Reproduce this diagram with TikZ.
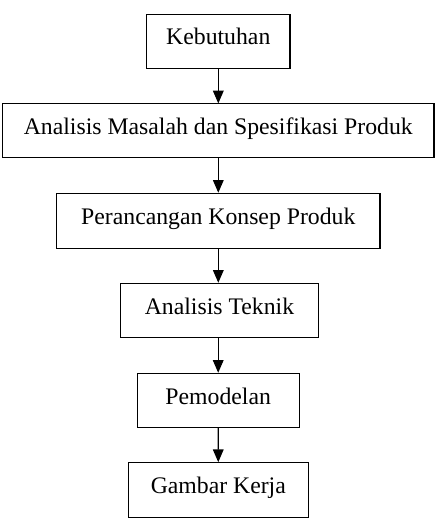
\documentclass[tikz,border=0pt]{standalone}
\usepackage{fontspec}
\setmainfont{Liberation Serif}
\usetikzlibrary{arrows.meta}
\begin{document}
\begin{tikzpicture}[x=0.75pt,y=-0.75pt,
  box/.style={draw, rectangle, line width=0.8pt, inner sep=0pt, font=\fontsize{17.8}{21}\selectfont, text height=12pt, text depth=6.3pt},
  flow/.style={-{Triangle[length=9.5pt,width=8pt]}, line width=0.8pt}]
\useasboundingbox (0,0) rectangle (435,527);
\node[box, minimum width=107.5pt, minimum height=40.7pt] (keb) at (218.3,41.2) {Kebutuhan};
\node[box, minimum width=323.5pt, minimum height=40.3pt] (ana) at (218.3,130.8) {Analisis Masalah dan Spesifikasi Produk};
\node[box, minimum width=242.5pt, minimum height=41.3pt] (ran) at (218.3,220.8) {Perancangan Konsep Produk};
\node[box, minimum width=148.2pt, minimum height=40.8pt] (tek) at (219.5,310.5) {Analisis Teknik};
\node[box, minimum width=121.3pt, minimum height=40.5pt] (mod) at (218.2,400.3) {Pemodelan};
\node[box, minimum width=135pt, minimum height=41pt] (gam) at (218.3,490) {Gambar Kerja};
\draw[flow] (keb) -- (ana);
\draw[flow] (ana) -- (ran);
\draw[flow] (ran.south) -- (ran.south |- tek.north);
\draw[flow] (tek.south -| mod.north) -- (mod);
\draw[flow] (mod) -- (gam);
\end{tikzpicture}
\end{document}
